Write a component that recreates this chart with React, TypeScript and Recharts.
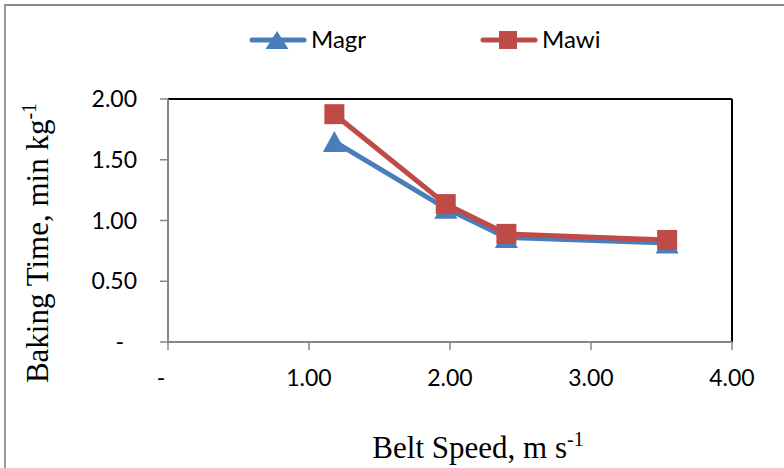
import React from 'react';
import { LineChart, Line, XAxis, YAxis, ReferenceLine, Label } from 'recharts';

const beltSpeed = [1.18, 1.97, 2.4, 3.54];
const magrValues = [1.65, 1.1, 0.86, 0.815];
const mawiValues = [1.875, 1.135, 0.89, 0.84];
const xTicks = [0, 1, 2, 3, 4];
const yTicks = [0, 0.5, 1, 1.5, 2];
const seriesNames = ['Magr', 'Mawi'];
const xTitle = 'Belt Speed, m s';
const yTitle = 'Baking Time, min kg';
const unitSup = '-1';

const BLUE = '#4a7ebb';
const RED = '#be4b48';
const AXIS = '#868686';
const TICK_FONT = 'Lato, "Open Sans", sans-serif';
const TITLE_FONT = '"Liberation Serif", "Times New Roman", serif';

const data = beltSpeed.map((x, i) => ({ x, magr: magrValues[i], mawi: mawiValues[i] }));

const fmt = (v: number) => (v === 0 ? '-' : v.toFixed(2));

const Triangle = (props: any) => {
  const { cx, cy, index } = props;
  if (cx == null || cy == null) return <g key={`t${index}`} />;
  const w = 11.5;
  const h = 10.5;
  return (
    <polygon
      key={`t${index}`}
      points={`${cx - w},${cy + h} ${cx + w},${cy + h} ${cx},${cy - h}`}
      fill={BLUE}
    />
  );
};

const Square = (props: any) => {
  const { cx, cy, index } = props;
  if (cx == null || cy == null) return <g key={`s${index}`} />;
  return <rect key={`s${index}`} x={cx - 10} y={cy - 10} width={20} height={20} fill={RED} />;
};

const YTick = (props: any) => {
  const { x, y, payload } = props;
  const v = payload.value as number;
  return (
    <text x={v === 0 ? x - 13 : x} y={y} dy="0.355em" textAnchor="end" fontFamily={TICK_FONT} fontSize={23} fill="#000">
      {fmt(v)}
    </text>
  );
};

const XTick = (props: any) => {
  const { x, y, payload } = props;
  const v = payload.value as number;
  return (
    <text x={v === 0 ? x - 7 : x} y={y} dy="0.71em" textAnchor="middle" fontFamily={TICK_FONT} fontSize={23} fill="#000">
      {fmt(v)}
    </text>
  );
};

const YTitle = () => (
  <text
    x={48}
    y={243}
    transform="rotate(-90, 48, 243)"
    textAnchor="middle"
    fontFamily={TITLE_FONT}
    fontSize={31}
    fill="#000"
  >
    {yTitle}
    <tspan dy={-12} fontSize={20}>{unitSup}</tspan>
  </text>
);

const XTitle = () => (
  <text x={478} y={458} textAnchor="middle" fontFamily={TITLE_FONT} fontSize={31} fill="#000">
    {xTitle}
    <tspan dy={-12} fontSize={20}>{unitSup}</tspan>
  </text>
);

const LegendOverlay = () => (
  <svg width={784} height={80} style={{ position: 'absolute', left: 0, top: 0 }}>
    <line x1={252} y1={40} x2={304} y2={40} stroke={BLUE} strokeWidth={5} strokeLinecap="round" />
    <polygon points={`${277 - 11.5},49 ${277 + 11.5},49 277,31`} fill={BLUE} />
    <text x={311} y={48} fontFamily={TICK_FONT} fontSize={24} fill="#000">{seriesNames[0]}</text>
    <line x1={483} y1={40} x2={535} y2={40} stroke={RED} strokeWidth={5} strokeLinecap="round" />
    <rect x={499} y={31} width={18} height={18} fill={RED} />
    <text x={542} y={48} fontFamily={TICK_FONT} fontSize={24} fill="#000">{seriesNames[1]}</text>
  </svg>
);

export default function App() {
  return (
    <div style={{ position: 'absolute', left: 0, top: 0, width: 784, height: 468, background: '#fff', overflow: 'hidden' }}>
      <div
        style={{
          position: 'absolute',
          left: 4,
          top: 4,
          width: 800,
          height: 480,
          borderTop: '2px solid #8c8c8c',
          borderLeft: '2px solid #9a9a9a',
        }}
      />
      <div style={{ position: 'absolute', left: 0, top: 0 }}>
        <LineChart width={784} height={468} data={data} margin={{ top: 99, right: 52, bottom: 0, left: 0 }}>
          <XAxis
            dataKey="x"
            type="number"
            domain={[0, 4]}
            ticks={xTicks}
            allowDataOverflow
            height={126}
            axisLine={{ stroke: AXIS, strokeWidth: 2 }}
            tickLine={{ stroke: AXIS, strokeWidth: 1.5 }}
            tickSize={8}
            tickMargin={20}
            tick={<XTick />}
          >
            <Label content={<XTitle />} />
          </XAxis>
          <YAxis
            type="number"
            domain={[0, 2]}
            ticks={yTicks}
            allowDataOverflow
            width={168}
            axisLine={{ stroke: AXIS, strokeWidth: 2 }}
            tickLine={{ stroke: AXIS, strokeWidth: 1.5 }}
            tickSize={8}
            tickMargin={23}
            tick={<YTick />}
          >
            <Label content={<YTitle />} />
          </YAxis>
          <ReferenceLine y={2} stroke="#000" strokeWidth={2} />
          <ReferenceLine x={4} stroke="#000" strokeWidth={2} />
          <Line
            type="linear"
            dataKey="magr"
            name={seriesNames[0]}
            stroke={BLUE}
            strokeWidth={5}
            dot={Triangle}
            activeDot={false}
            isAnimationActive={false}
          />
          <Line
            type="linear"
            dataKey="mawi"
            name={seriesNames[1]}
            stroke={RED}
            strokeWidth={5}
            dot={Square}
            activeDot={false}
            isAnimationActive={false}
          />
        </LineChart>
      </div>
      <LegendOverlay />
    </div>
  );
}
